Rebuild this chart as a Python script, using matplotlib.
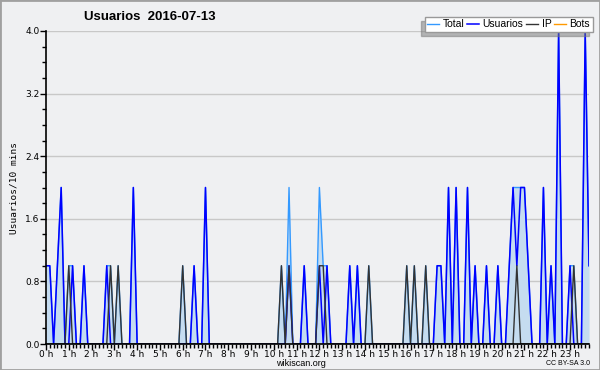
import matplotlib
matplotlib.use("Agg")
import matplotlib.pyplot as plt
from matplotlib.patches import Rectangle
from matplotlib.ticker import MultipleLocator
import numpy as np

# valores cada 10 minutos (144 puntos)
total = [1, 1, 0, 1, 2, 0, 1, 1, 0, 0, 1, 0,
         0, 0, 0, 0, 1, 1, 0, 1, 0, 0, 0, 2,
         0, 0, 0, 0, 0, 0, 0, 0, 0, 0, 0, 0,
         1, 0, 0, 1, 0, 0, 2, 0, 0, 0, 0, 0,
         0, 0, 0, 0, 0, 0, 0, 0, 0, 0, 0, 0,
         0, 0, 1, 0, 2, 0, 0, 0, 1, 0, 0, 0,
         2, 1, 1, 0, 0, 0, 0, 0, 1, 0, 1, 0,
         0, 1, 0, 0, 0, 0, 0, 0, 0, 0, 0, 1,
         0, 1, 0, 0, 1, 0, 0, 1, 1, 0, 2, 0,
         2, 0, 0, 2, 0, 1, 0, 0, 1, 0, 0, 1,
         0, 0, 1, 2, 2, 2, 2, 1, 0, 0, 0, 2,
         0, 1, 0, 4, 0, 0, 1, 1, 0, 0, 4, 1]

usuarios = [1, 1, 0, 1, 2, 0, 0, 1, 0, 0, 1, 0,
            0, 0, 0, 0, 1, 0, 0, 0, 0, 0, 0, 2,
            0, 0, 0, 0, 0, 0, 0, 0, 0, 0, 0, 0,
            0, 0, 0, 1, 0, 0, 2, 0, 0, 0, 0, 0,
            0, 0, 0, 0, 0, 0, 0, 0, 0, 0, 0, 0,
            0, 0, 0, 0, 1, 0, 0, 0, 1, 0, 0, 0,
            1, 0, 1, 0, 0, 0, 0, 0, 1, 0, 1, 0,
            0, 0, 0, 0, 0, 0, 0, 0, 0, 0, 0, 0,
            0, 0, 0, 0, 0, 0, 0, 1, 1, 0, 2, 0,
            2, 0, 0, 2, 0, 1, 0, 0, 1, 0, 0, 1,
            0, 0, 1, 2, 1, 2, 2, 1, 0, 0, 0, 2,
            0, 1, 0, 4, 0, 0, 1, 0, 0, 0, 4, 1]

ip = [0, 0, 0, 0, 0, 0, 1, 0, 0, 0, 0, 0,
      0, 0, 0, 0, 0, 1, 0, 1, 0, 0, 0, 0,
      0, 0, 0, 0, 0, 0, 0, 0, 0, 0, 0, 0,
      1, 0, 0, 0, 0, 0, 0, 0, 0, 0, 0, 0,
      0, 0, 0, 0, 0, 0, 0, 0, 0, 0, 0, 0,
      0, 0, 1, 0, 1, 0, 0, 0, 0, 0, 0, 0,
      1, 1, 0, 0, 0, 0, 0, 0, 0, 0, 0, 0,
      0, 1, 0, 0, 0, 0, 0, 0, 0, 0, 0, 1,
      0, 1, 0, 0, 1, 0, 0, 0, 0, 0, 0, 0,
      0, 0, 0, 0, 0, 0, 0, 0, 0, 0, 0, 0,
      0, 0, 0, 0, 1, 0, 0, 0, 0, 0, 0, 0,
      0, 0, 0, 0, 0, 0, 0, 1, 0, 0, 0, 0]

bots = [0] * 144

horas = [f"{h} h" for h in range(24)]

bg = "#eff0f2"
fig = plt.figure(figsize=(6, 3.7), dpi=100, facecolor=bg)
ax = fig.add_axes([46/600, 1 - 344/370, 543/600, 313/370])
ax.set_facecolor(bg)

x = np.arange(len(total))
ax.fill_between(x, total, 0, color="#c5dcf0", lw=0, zorder=1)
ax.plot(x, bots, color="#ff9900", lw=1, zorder=1.5, label="Bots")
ax.plot(x, total, color="#3399ff", lw=1, zorder=2, label="Total")
ax.plot(x, usuarios, color="#0000ff", lw=1.1, zorder=2.1, label="Usuarios")
ax.plot(x, ip, color="#333333", lw=1, zorder=2.2, label="IP")

ax.set_xlim(0, 143)
ax.set_ylim(0, 4.0)
ax.set_xticks(np.arange(0, 144, 6))
ax.set_xticklabels(horas)
ax.xaxis.set_minor_locator(MultipleLocator(1))
ax.set_yticks([0, 0.8, 1.6, 2.4, 3.2, 4.0])
ax.set_yticklabels(["0.0", "0.8", "1.6", "2.4", "3.2", "4.0"])
ax.yaxis.set_minor_locator(MultipleLocator(0.2))
ax.tick_params(which="major", length=4, width=1, labelsize=6.5, pad=0.5, colors="black")
ax.tick_params(which="minor", length=3, width=1)
ax.grid(axis="y", color="#c8c8c8", lw=1, zorder=0)
ax.set_axisbelow(True)
for s in ["top", "right"]:
    ax.spines[s].set_visible(False)
for s in ["left", "bottom"]:
    ax.spines[s].set_linewidth(1.2)
    ax.spines[s].set_zorder(3)

ax.set_ylabel("Usuarios/10 mins", family="DejaVu Sans Mono", fontsize=6.8, labelpad=5)

fig.text(0.25, 0.955, "Usuarios  2016-07-13", family="Liberation Sans",
         fontweight="bold", fontsize=9.5, ha="center", va="center")
fig.text(0.502, 0.018, "wikiscan.org", family="Liberation Sans", fontsize=6.5,
         ha="center", va="center")
fig.text(0.983, 0.018, "CC BY-SA 3.0", family="Liberation Sans", fontsize=5,
         ha="right", va="center")

h, l = ax.get_legend_handles_labels()
orden = [1, 2, 3, 0]
leg = fig.legend([h[i] for i in orden], [l[i] for i in orden], ncol=4,
                 loc="upper right", bbox_to_anchor=(0.988, 0.955),
                 bbox_transform=fig.transFigure, borderaxespad=0,
                 prop={"family": "Liberation Sans", "size": 7.5},
                 handlelength=1.1, handletextpad=0.35, columnspacing=0.3,
                 borderpad=0.25, fancybox=False, framealpha=1,
                 edgecolor="#999999", shadow={"ox": -3, "oy": -3, "color": "#777777"})
leg.get_frame().set_linewidth(1)

fig.patches.append(Rectangle((0, 0), 1, 1, transform=fig.transFigure, fill=False,
                             edgecolor="#a0a0a0", lw=2))

fig.savefig("out.png", dpi=100, facecolor=bg)
